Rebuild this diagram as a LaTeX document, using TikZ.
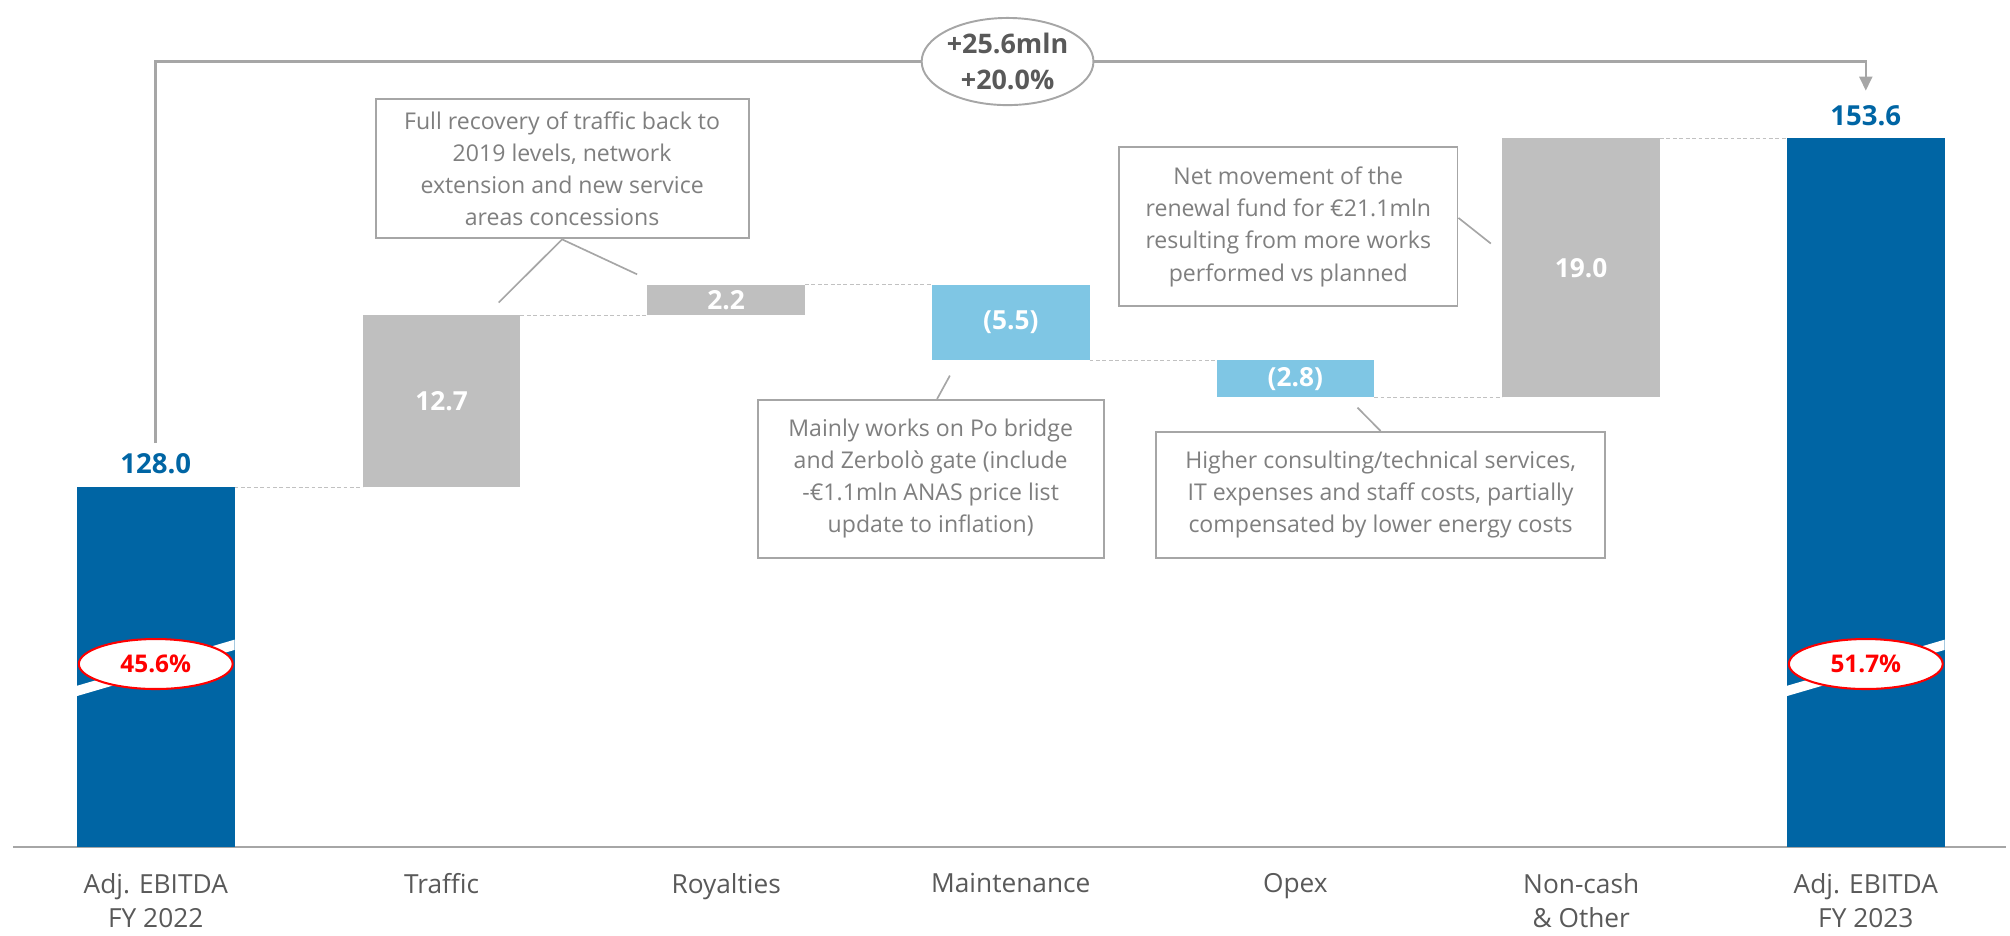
\documentclass[tikz,border=0pt]{standalone}
\usepackage{fontspec}
\setmainfont{Open Sans}
\usetikzlibrary{arrows.meta,calc,positioning,shapes.geometric}

\definecolor{ebblue}{HTML}{0065A4}
\definecolor{deltablue}{HTML}{7FC6E4}
\definecolor{bargray}{HTML}{BFBFBF}
\definecolor{linegray}{HTML}{A6A6A6}
\definecolor{notegray}{HTML}{7F7F7F}
\definecolor{labgray}{HTML}{595959}

\tikzset{
  wfbar/.style={inner sep=0, outer sep=0, minimum width=123pt, anchor=south west,
    text=white, font=\fontsize{20.5}{24}\selectfont\bfseries},
  totval/.style={inner sep=0, text=ebblue, font=\fontsize{21.5}{24}\selectfont\bfseries},
  catlab/.style={inner sep=0, anchor=north, align=center, text=labgray,
    font=\fontsize{20.5}{27}\selectfont},
  dashlink/.style={draw=linegray!70, line width=0.8pt, dash pattern=on 3pt off 2pt},
  brkmark/.style={ellipse, draw=red, fill=white, line width=1.6pt, inner sep=0,
    minimum width=120pt, minimum height=39pt, text=red,
    font=\fontsize{19}{22}\selectfont\bfseries},
  growbubble/.style={ellipse, draw=linegray, fill=white, line width=1.5pt, inner sep=0,
    minimum width=132pt, minimum height=68pt, align=center, text=labgray,
    font=\fontsize{21}{28}\selectfont\bfseries},
  bracket/.style={draw=linegray, line width=2pt},
  notebox/.style={draw=linegray, line width=1.5pt, fill=white, align=center, inner sep=0,
    text=notegray, font=\fontsize{18}{25}\selectfont},
  noteline/.style={draw=linegray, line width=1.3pt}
}

\begin{document}
\begin{tikzpicture}[x=1pt, y=-1pt]
\useasboundingbox (0,0) rectangle (1568,730);

\draw[draw=linegray, line width=1.5pt] (10,661) -- (1565,661);

\node[wfbar, fill=ebblue, minimum height=281pt] (fy22) at (60,661) {};
\node[wfbar, fill=bargray, minimum height=134pt] (traffic) at (283,380) {12.7};
\node[wfbar, fill=bargray, minimum height=24pt] (roy) at (505,246) {2.2};
\node[wfbar, fill=deltablue, minimum height=59pt] (maint) at (727,281) {(5.5)};
\node[wfbar, fill=deltablue, minimum height=29pt] (opex) at (949,310) {(2.8)};
\node[wfbar, fill=bargray, minimum height=202pt] (noncash) at (1172,310) {19.0};
\node[wfbar, fill=ebblue, minimum height=553pt] (fy23) at (1394,661) {};

\draw[dashlink] (fy22.north east) -- (traffic.south west);
\draw[dashlink] (traffic.north east) -- (roy.south west);
\draw[dashlink] (roy.north east) -- (maint.north west);
\draw[dashlink] (maint.south east) -- (opex.north west);
\draw[dashlink] (opex.south east) -- (noncash.south west);
\draw[dashlink] (noncash.north east) -- (fy23.north west);

\node[totval, above=10pt of fy22] (v22) {128.0};
\node[totval, above=10pt of fy23] (v23) {153.6};

\fill[white] (60,535) -- (183,499) -- (183,507) -- (60,543) -- cycle;
\fill[white] (1394,535) -- (1517,499) -- (1517,507) -- (1394,543) -- cycle;
\node[brkmark] (m22) at (121.5,518) {45.6\%};
\node[brkmark] (m23) at (1455.5,518) {51.7\%};

\node[growbubble] (grow) at (786,48) {+25.6mln\\+20.0\%};
\draw[bracket] ([yshift=8pt]v22.north) |- (grow.west);
\draw[bracket, -{Triangle[width=10pt,length=11pt]}] (grow.east) -| ([yshift=11pt]v23.north);

\node[catlab] (c22) at (121.5,681) {Adj. EBITDA\\FY 2022};
\node[catlab] (ctr) at (344.5,681) {Traffic};
\node[catlab] (cro) at (566.5,681) {Royalties};
\node[catlab] (cma) at (788.5,681) {Maintenance};
\node[catlab] (cop) at (1010.5,681) {Opex};
\node[catlab] (cnc) at (1233.5,681) {Non-cash\\\& Other};
\node[catlab] (c23) at (1455.5,681) {Adj. EBITDA\\FY 2023};

\node[notebox, minimum width=291pt, minimum height=109pt] (trnote) at (438.5,131.5)
  {Full recovery of traffic back to\\2019 levels, network\\extension and new service\\areas concessions};
\coordinate (trtip) at (389,236);
\coordinate (roytip) at (497,214);
\draw[noteline] (trtip) -- (trnote.south) -- (roytip);

\node[notebox, minimum width=270pt, minimum height=123pt] (mtnote) at (726,373.5)
  {Mainly works on Po bridge\\and Zerbolò gate (include\\-€1.1mln ANAS price list\\update to inflation)};
\coordinate (mttip) at (741,293);
\draw[noteline] ([xshift=5pt]mtnote.north) -- (mttip);

\node[notebox, minimum width=350pt, minimum height=98pt] (opnote) at (1077,386)
  {Higher consulting/technical services,\\IT expenses and staff costs, partially\\compensated by lower energy costs};
\coordinate (optip) at (1059,318);
\draw[noteline] (opnote.north) -- (optip);

\node[notebox, minimum width=264pt, minimum height=124pt] (ncnote) at (1005,177)
  {Net movement of the\\renewal fund for €21.1mln\\resulting from more works\\performed vs planned};
\coordinate (nctip) at (1163,190);
\draw[noteline] ([yshift=7pt]ncnote.east) -- (nctip);
\end{tikzpicture}
\end{document}
